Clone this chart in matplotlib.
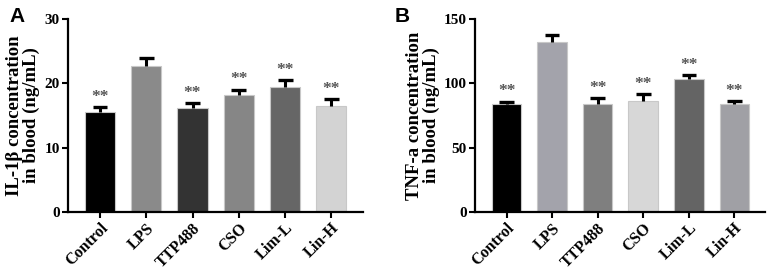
import matplotlib
matplotlib.use('Agg')
import matplotlib.pyplot as plt
import numpy as np

groups = ['Control', 'LPS', 'TTP488', 'CSO', 'Lim-L', 'Lin-H']

# panel A: IL-1beta
il1b_mean = [15.6, 22.7, 16.1, 18.2, 19.4, 16.4]
il1b_err = [0.7, 1.2, 0.8, 0.8, 1.1, 1.1]
il1b_sig = ['**', '', '**', '**', '**', '**']
il1b_colors = ['#000000', '#8a8a8a', '#333333', '#868686', '#666666', '#d3d3d3']

# panel B: TNF-a
tnf_mean = [83.7, 132.4, 83.7, 86.5, 103.1, 83.7]
tnf_err = [2.0, 5.2, 4.7, 5.2, 3.4, 2.6]
tnf_sig = ['**', '', '**', '**', '**', '**']
tnf_colors = ['#000000', '#a3a3ab', '#7f7f7f', '#d7d7d7', '#646464', '#a0a0a5']

plt.rcParams['font.family'] = 'Liberation Serif'
plt.rcParams['font.weight'] = 'bold'

fig = plt.figure(figsize=(7.7, 2.7), dpi=100)
axA = fig.add_axes([0.0883, 0.215, 0.383, 0.715])
axB = fig.add_axes([0.617, 0.215, 0.377, 0.715])


def draw_panel(ax, means, errs, sig, colors, ymax, step, ylabel):
    x = np.arange(len(groups))
    means = np.array(means)
    tops = means + np.array(errs)
    ax.bar(x, means, width=0.65, color=colors, edgecolor='#c8c8c8', linewidth=0.8, zorder=2)
    # upper error bars only
    ax.vlines(x, means, tops, color='black', linewidth=2.2, zorder=3)
    ax.hlines(tops, x - 0.16, x + 0.16, color='black', linewidth=2.4, zorder=3)
    off = ymax * 0.012
    for xi, t, s in zip(x, tops, sig):
        if s:
            ax.text(xi, t + off, s, ha='center', va='bottom', fontsize=12.5,
                    color='#555555', fontweight='bold')
    ax.set_xlim(-0.69, 5.68)
    ax.set_ylim(0, ymax)
    ax.set_yticks(np.arange(0, ymax + 1, step))
    ax.set_xticks(x)
    ax.set_xticklabels(groups, rotation=45, ha='right', rotation_mode='anchor', fontsize=11.5,
                       fontweight='bold')
    for lab in ax.get_yticklabels():
        lab.set_fontsize(11)
        lab.set_fontweight('bold')
    ax.set_ylabel(ylabel, fontsize=13.5, fontweight='bold', linespacing=0.95, labelpad=3)
    for sp in ['top', 'right']:
        ax.spines[sp].set_visible(False)
    for sp in ['left', 'bottom']:
        ax.spines[sp].set_linewidth(1.6)
    ax.tick_params(axis='both', width=1.5, length=4, pad=2)


draw_panel(axA, il1b_mean, il1b_err, il1b_sig, il1b_colors, 30, 10,
           'IL-1\u03b2 concentration\nin blood (ng/mL)')
draw_panel(axB, tnf_mean, tnf_err, tnf_sig, tnf_colors, 150, 50,
           'TNF-a concentration\nin blood (ng/mL)')

fig.text(0.012, 0.975, 'A', fontsize=15, fontweight='bold', family='Liberation Sans', va='top')
fig.text(0.512, 0.975, 'B', fontsize=15, fontweight='bold', family='Liberation Sans', va='top')

fig.savefig('out.png', dpi=100)
